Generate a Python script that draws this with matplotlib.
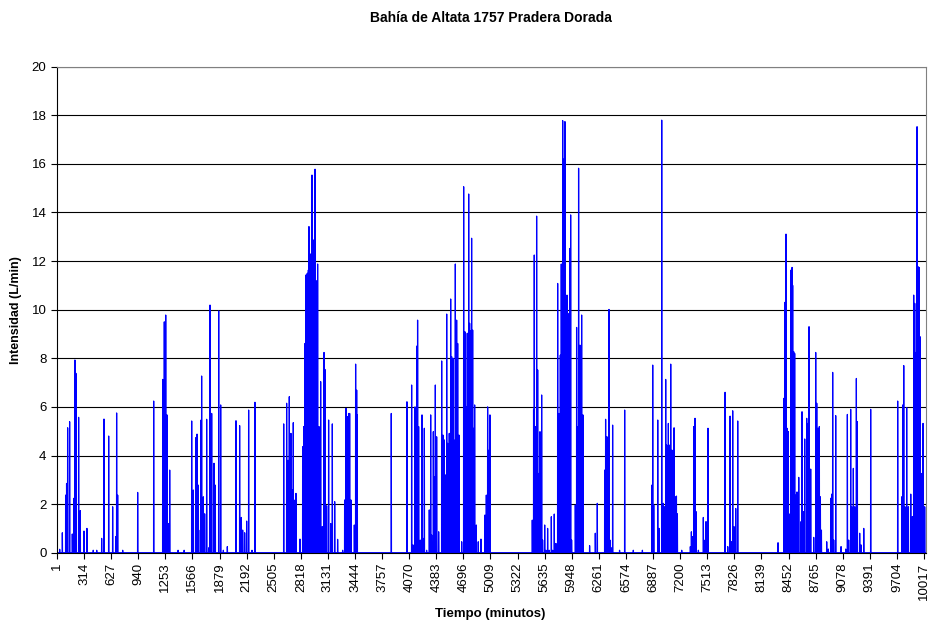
import numpy as np
import matplotlib
matplotlib.use('Agg')
import matplotlib.pyplot as plt

plt.rcParams['font.family'] = ['Liberation Sans', 'DejaVu Sans']

# Total number of one-minute records
n_minutos = 10040

# Minutes with flow and their intensity (L/min); every other minute is 0
minutos = [
    32, 63, 101, 112, 124, 147, 178, 197, 208, 220, 251, 270, 313, 347, 420, 460,
    517, 544, 598, 644, 679, 690, 702, 760, 933, 1118,
    1222, 1241, 1257, 1272, 1287, 1303, 1400, 1470,
    1557, 1576, 1603, 1619, 1634, 1657, 1665, 1672, 1692, 1707, 1730, 1753,
    1769, 1788, 1815, 1830, 1869, 1892, 1923, 1969, 2069, 2111, 2131, 2146,
    2169, 2192, 2215, 2254, 2288,
    2620, 2654, 2670, 2685, 2704, 2720, 2731, 2751, 2762, 2808, 2839, 2851,
    2866, 2872, 2878, 2886, 2893, 2899, 2905, 2912, 2918, 2924, 2930, 2935,
    2941, 2947, 2955, 2962, 2970, 2976, 2982, 2988, 2993, 3001, 3006, 3012,
    3020, 3028, 3047, 3066, 3086, 3097, 3116, 3139, 3163, 3182, 3209, 3243,
    3301, 3324, 3340, 3359, 3370, 3382, 3397, 3436, 3451, 3463, 3470,
    3863, 4044, 4098, 4114, 4137, 4156, 4167, 4179, 4198, 4218, 4229, 4245,
    4271, 4302, 4318, 4329, 4349, 4360, 4372, 4387, 4410, 4445, 4460, 4476,
    4490, 4503, 4514, 4533, 4549, 4560, 4576, 4587, 4603, 4618, 4630, 4645,
    4676, 4699, 4714, 4730, 4741, 4757, 4768, 4784, 4791, 4803, 4814, 4826,
    4845, 4868, 4899, 4945, 4961, 4976, 4992, 5003,
    5492, 5507, 5515, 5527, 5542, 5554, 5565, 5581, 5600, 5611, 5635, 5650,
    5669, 5688, 5712, 5727, 5746, 5765, 5785, 5800, 5816, 5827, 5843, 5849,
    5854, 5862, 5869, 5881, 5893, 5904, 5916, 5927, 5935, 5946, 5989, 6004,
    6016, 6027, 6043, 6062, 6077, 6154, 6220, 6243, 6328, 6339, 6355, 6378,
    6389, 6405, 6420, 6500, 6559, 6659, 6764,
    6872, 6883, 6895, 6941, 6956, 6987, 7006, 7018, 7033, 7045, 7064, 7080,
    7091, 7106, 7130, 7141, 7157, 7168, 7218, 7318, 7330, 7345, 7357, 7372,
    7384, 7411, 7468, 7488, 7499, 7522, 7719, 7750, 7777, 7792, 7807, 7823,
    7842, 7865, 8331,
    8397, 8408, 8423, 8435, 8450, 8470, 8481, 8493, 8500, 8512, 8523, 8535,
    8550, 8570, 8597, 8608, 8624, 8639, 8662, 8677, 8689, 8708, 8743, 8766,
    8778, 8793, 8808, 8820, 8832, 8893, 8912, 8939, 8951, 8962, 8974, 8997,
    9059, 9113, 9132, 9147, 9170, 9182, 9201, 9217, 9236, 9247, 9274, 9290,
    9321, 9401, 9713, 9760, 9771, 9783, 9798, 9817, 9837, 9864, 9883, 9898,
    9910, 9925, 9937, 9948, 9960, 9971, 9987, 10006, 10025,
]
intensidad = [
    0.14, 0.82, 2.37, 2.85, 5.14, 5.39, 0.77, 2.24, 7.93, 7.38, 5.57, 1.73, 0.89, 1.0, 0.1, 0.1,
    0.59, 5.5, 4.8, 1.89, 0.66, 5.75, 2.37, 0.1, 2.48, 6.24,
    7.13, 9.5, 9.78, 5.67, 1.2, 3.4, 0.1, 0.1,
    5.42, 2.58, 4.73, 4.88, 2.78, 0.93, 5.46, 7.27, 2.3, 1.6, 5.49, 0.2,
    10.19, 5.73, 3.68, 2.78, 9.95, 6.08, 0.1, 0.25, 5.43, 5.23, 1.45, 0.93,
    0.82, 1.3, 5.87, 0.1, 6.19,
    5.3, 6.15, 3.8, 6.42, 4.91, 2.58, 5.35, 2.17, 2.44, 0.56, 4.36, 5.19,
    8.61, 6.5, 11.43, 9.2, 11.5, 8.7, 11.63, 13.42, 10.1, 12.3, 9.4, 10.4,
    8.9, 15.54, 11.0, 12.87, 9.6, 7.8, 15.78, 9.9, 11.2, 9.85, 7.2, 11.88,
    3.5, 5.19, 7.04, 1.07, 8.24, 7.54, 1.93, 5.46, 1.2, 5.3, 2.1, 0.55,
    0.1, 2.17, 5.94, 5.6, 5.73, 5.73, 2.17, 1.14, 7.76, 6.69, 5.67,
    5.73, 6.21, 6.9, 0.32, 6.0, 8.5, 9.57, 5.19, 0.52, 5.67, 0.59, 5.12,
    0.1, 1.76, 5.67, 0.73, 4.98, 3.13, 6.9, 4.77, 0.86, 7.89, 4.84, 4.64,
    3.2, 9.82, 4.5, 4.91, 10.44, 8.07, 8.0, 4.64, 11.88, 9.57, 8.61, 4.84,
    0.45, 15.06, 9.09, 6.0, 9.03, 14.76, 9.44, 9.14, 12.94, 9.16, 5.12, 6.08,
    1.14, 0.45, 0.56, 1.55, 2.37, 6.0, 4.22, 5.67,
    1.34, 5.9, 12.25, 5.19, 13.85, 7.52, 3.26, 4.98, 6.49, 0.52, 1.14, 0.1,
    1.0, 0.1, 1.48, 0.1, 1.59, 0.38, 11.08, 5.73, 8.13, 11.88, 17.78, 16.2,
    15.27, 12.0, 17.74, 9.99, 10.6, 9.85, 0.8, 12.52, 13.9, 0.52, 1.96, 9.27,
    5.19, 15.82, 8.54, 9.78, 5.67, 0.29, 0.8, 2.03, 3.4, 5.49, 4.77, 10.01,
    0.52, 0.2, 5.25, 0.1, 5.87, 0.1, 0.1,
    2.78, 7.72, 1.96, 5.46, 1.0, 17.8, 2.03, 1.89, 7.13, 4.43, 5.32, 4.43,
    7.76, 4.22, 5.14, 2.3, 2.33, 1.6, 0.1, 0.25, 0.86, 0.66, 5.19, 5.53,
    1.69, 0.1, 1.45, 0.52, 1.28, 5.12, 6.6, 0.25, 5.62, 0.45, 5.84, 1.07,
    1.82, 5.42, 0.41,
    6.35, 10.3, 13.11, 5.12, 4.98, 1.6, 11.63, 11.74, 11.0, 8.27, 8.2, 2.37,
    2.5, 3.1, 1.28, 5.8, 1.69, 4.68, 5.53, 5.32, 9.3, 3.44, 0.63, 8.24,
    6.15, 5.12, 5.19, 2.3, 0.93, 0.45, 0.15, 2.24, 2.41, 7.42, 0.52, 5.64,
    0.25, 0.15, 5.69, 0.52, 5.9, 1.89, 3.47, 1.89, 7.17, 5.39, 0.8, 0.32,
    1.0, 5.9, 6.24, 2.3, 6.08, 7.7, 1.89, 5.97, 1.89, 2.41, 1.48, 10.6,
    10.26, 8.24, 17.53, 11.77, 11.74, 8.89, 3.26, 5.32, 1.89,
]

etiquetas_x = list(range(1, 10018, 313))
etiquetas_y = list(range(0, 21, 2))

t = np.arange(1, n_minutos + 1)
serie = np.zeros(n_minutos)
serie[np.array(minutos) - 1] = intensidad

fig = plt.figure(figsize=(9.31, 6.28), dpi=100)
ax = fig.add_axes([0.0612, 0.1199, 0.9334, 0.7739])

ax.plot(t, serie, color='#0000FF', linewidth=0.9, antialiased=True)

ax.set_xlim(1, n_minutos)
ax.set_ylim(0, 20)
ax.set_yticks(etiquetas_y)
ax.set_xticks(etiquetas_x)
ax.set_xticklabels([str(v) for v in etiquetas_x], rotation=90)
ax.tick_params(axis='both', labelsize=9.5, length=4, width=0.8, direction='out', color='black')
ax.tick_params(axis='x', pad=3)
ax.yaxis.grid(True, color='black', linewidth=0.8)
ax.set_axisbelow(True)

for lado in ['top', 'right']:
    ax.spines[lado].set_color('#808080')
for lado in ['left', 'bottom']:
    ax.spines[lado].set_color('black')
    ax.spines[lado].set_linewidth(0.8)

fig.text(0.527, 0.972, 'Bahía de Altata 1757 Pradera Dorada', ha='center', va='center',
         fontsize=10, fontweight='bold')
fig.text(0.017, 0.506, 'Intensidad (L/min)', ha='center', va='center', rotation=90,
         fontsize=9, fontweight='bold')
fig.text(0.527, 0.022, 'Tiempo (minutos)', ha='center', va='center', fontsize=9.5, fontweight='bold')

fig.savefig('out.png', dpi=100)
